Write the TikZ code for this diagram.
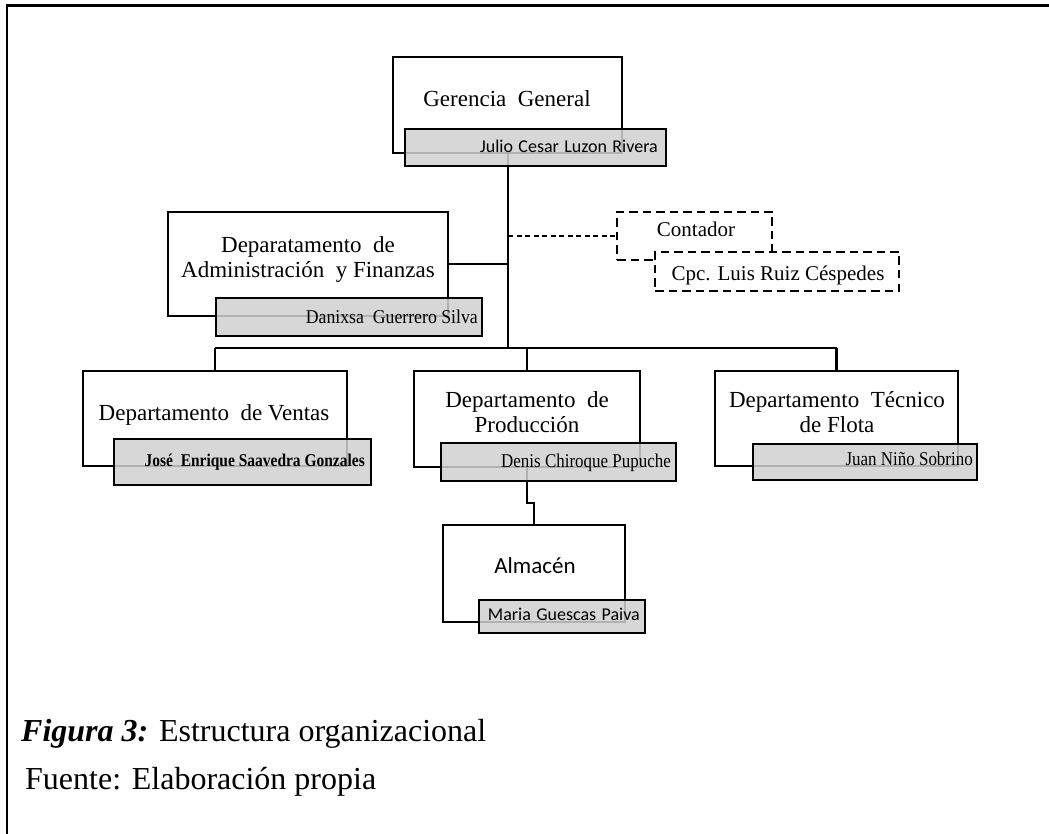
\documentclass[tikz,border=0pt]{standalone}
\usepackage{fontspec}
\usepackage{graphicx}
\setmainfont{Liberation Serif}
\newfontfamily\carlito{Carlito}
\definecolor{namegray}{RGB}{208,208,208}
\newcommand\wgap{\hspace{0.5em}}
\newcommand\sgap{\hspace{0.3em}}
\newcommand\narrow[1]{\scalebox{0.87}[1]{#1}}
\begin{document}
\begin{tikzpicture}[x=1pt,y=-1pt,
  box/.style={draw=black, line width=2.9pt, fill=white, inner sep=0pt, outer sep=0pt},
  namebox/.style={draw=black, line width=2.9pt, fill=namegray, fill opacity=0.85, draw opacity=1, inner sep=0pt, outer sep=0pt},
  dbox/.style={draw=black, line width=2.6pt, dash pattern=on 8.5pt off 5pt, fill=white, inner sep=0pt, outer sep=0pt},
  conn/.style={line width=2.6pt},
  dconn/.style={line width=1.2pt, dash pattern=on 5pt off 3.5pt},
  head/.style={font=\fontsize{23}{24.5}\selectfont, inner sep=0pt, align=center, anchor=base},
  headsans/.style={font=\carlito\fontsize{23}{26}\selectfont, inner sep=0pt, anchor=base},
  nm/.style={font=\fontsize{19.5}{22}\selectfont, inner sep=0pt, anchor=base east},
  nmsans/.style={font=\carlito\fontsize{18}{20}\selectfont, inner sep=0pt, anchor=base east},
  plain/.style={font=\fontsize{21}{24}\selectfont, inner sep=0pt, anchor=base},
  captext/.style={font=\fontsize{32}{36}\selectfont, inner sep=0pt, anchor=base west}]
\useasboundingbox (0,0) rectangle (1049,834);
\clip (0,0) rectangle (1049,834);
\fill[white] (0,0) rectangle (1049,834);

% page frame
\draw[line width=2.8pt] (7,850) -- (7,5.5) -- (1070,5.5);

% unit boxes (outer frames)
\node[box, minimum width=229pt, minimum height=96pt] (gg)   at (507.5,105) {};
\node[box, minimum width=280pt, minimum height=104pt] (adm) at (308,264) {};
\node[box, minimum width=264pt, minimum height=95pt] (ven)  at (215,418.5) {};
\node[box, minimum width=226pt, minimum height=96pt] (prod) at (527,419) {};
\node[box, minimum width=243pt, minimum height=95pt] (tec)  at (836.5,418.5) {};
\node[box, minimum width=182pt, minimum height=97pt] (alm)  at (534,573.5) {};

% connectors
\coordinate (trunk) at (508,348);
\draw[conn] (gg.south -| trunk) -- (trunk);
\draw[conn] (adm.east) -- (adm.east -| trunk);
\draw[conn] (ven.north |- trunk) -- (tec.north |- trunk);
\draw[conn] (ven.north |- trunk) -- (ven.north);
\draw[conn] (prod.north |- trunk) -- (prod.north);
\draw[conn] (tec.north |- trunk) -- (tec.north);
\draw[conn] (prod.south) -- ++(0,36) -| (alm.north);

% name plates
\node[namebox, minimum width=261pt, minimum height=37pt] (ggn)   at (535.5,147.5) {};
\node[namebox, minimum width=266pt, minimum height=38pt] (admn)  at (349,317) {};
\node[namebox, minimum width=257pt, minimum height=46pt] (venn)  at (242.5,462) {};
\node[namebox, minimum width=235pt, minimum height=38pt] (prodn) at (558.5,462) {};
\node[namebox, minimum width=224pt, minimum height=36pt] (tecn)  at (865,462) {};
\node[namebox, minimum width=166pt, minimum height=33pt] (almn)  at (562,616.5) {};

% accountant (dashed, advisory)
\node[dbox, minimum width=155pt, minimum height=48pt] (cont) at (694.5,236) {};
\node[dbox, minimum width=244pt, minimum height=39pt] (cpc)  at (777,271.5) {};
\draw[dconn] (trunk |- cont.west) -- (cont.west);

% titles (two-line titles are anchored on the last baseline)
\node[head] (ggt)   at (507,107) {Gerencia\wgap General};
\node[head] (admt)  at (308,277) {Deparatamento\wgap de\\Administración\wgap y Finanzas};
\node[head] (vent)  at (214,420) {Departamento\wgap de Ventas};
\node[head] (prodt) at (527,432) {Departamento\wgap de\\Producción};
\node[head] (tect)  at (837,432) {Departamento\wgap Técnico\\de Flota};
\node[headsans] (almt) at (535,573) {Almacén};
\node[plain] (contt) at (696,237) {Contador};
\node[plain] (cpct)  at (778,280) {Cpc. Luis Ruiz Céspedes};

% names
\node[nmsans] (ggnt)  at (658,153) {Julio\sgap Cesar\sgap Luzon\sgap Rivera};
\node[nm] (admnt) at (478,323) {\scalebox{0.91}[1]{Danixsa\wgap Guerrero Silva}};
\node[nm, font=\fontsize{18}{20}\selectfont\bfseries] (vennt) at (365,466) {\scalebox{0.86}[1]{José\wgap Enrique Saavedra Gonzales}};
\node[nm] (prodnt) at (671,467) {\narrow{Denis Chiroque Pupuche}};
\node[nm] (tecnt)  at (973,465) {\narrow{Juan Niño Sobrino}};
\node[nmsans] (almnt) at (640,620) {Maria\sgap Guescas\sgap Paiva};

% caption
\node[captext] (fig) at (21,741) {\textbf{\textit{Figura 3:}} Estructura organizacional};
\node[captext] (src) at (25,789) {Fuente: Elaboración propia};
\end{tikzpicture}
\end{document}
